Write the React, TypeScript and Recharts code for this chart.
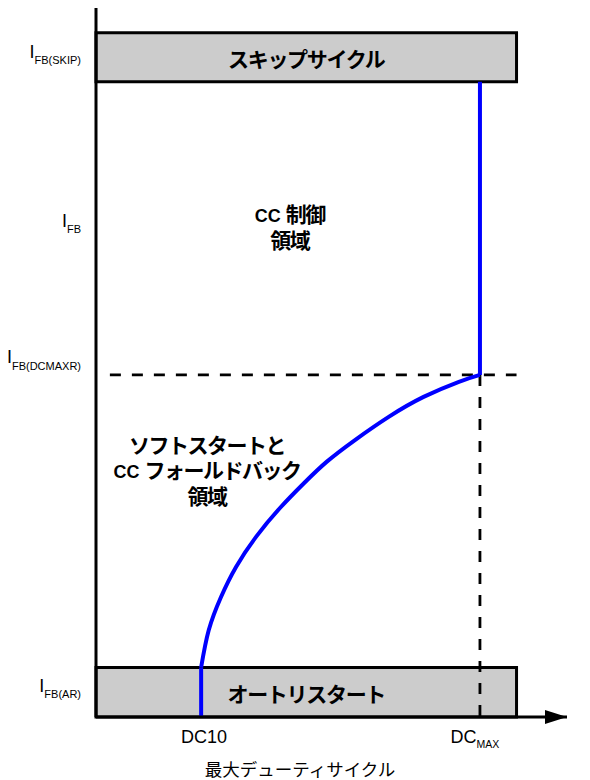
import React from "react";
import {
  ComposedChart,
  Line,
  XAxis,
  YAxis,
  ReferenceArea,
  ReferenceLine,
  ReferenceDot,
} from "recharts";

// curve (duty %, I_FB level)
const curveDuty = [25.0, 26.8, 29.7, 33.3, 38.1, 43.8, 49.5, 54.9, 61.5, 69.6, 77.9, 86.3, 91.3];
const curveIfb = [7.2, 12.6, 17.4, 21.8, 26.2, 30.4, 34.0, 37.1, 40.2, 43.6, 46.5, 48.7, 49.7];

const dutyTicks = [25, 91.3];
const dutyTickMain = ["DC10", "DC"];
const dutyTickSub = ["", "MAX"];

const ifbTicks = [4.6, 52.3, 72.2, 96.7];
const ifbTickSub = ["FB(AR)", "FB(DCMAXR)", "FB", "FB(SKIP)"];

const DC10 = 25;
const DCMAX = 91.3;
const IFB_DCMAXR = 49.7;
const boxDuty = [0, 100];
const arBox = [0, 7.2];
const skipBox = [92.3, 99.4];
const dutyDomain = [0, 112];
const ifbDomain = [0, 103];

const skipText = "スキップサイクル";
const arText = "オートリスタート";
const ccText = ["CC 制御", "領域"];
const softText = ["ソフトスタートと", "CC フォールドバック", "領域"];
const xTitle = "最大デューティサイクル";

const data = curveDuty.map((x, i) => ({ x, y: curveIfb[i] }));

const FONT = "'Liberation Sans', 'Noto Sans CJK JP', sans-serif";
const JP = 21;

// latin prefix "CC " is set a bit smaller than the Japanese part
const jpLine = (s: string) => {
  if (s.startsWith("CC ")) {
    return [
      <tspan key="a" fontSize={18} letterSpacing={0}>CC </tspan>,
      <tspan key="b">{s.slice(3)}</tspan>,
    ];
  }
  return s;
};

const IfbTick = (props: any) => {
  const { y, payload } = props;
  const sub = ifbTickSub[ifbTicks.indexOf(payload.value)];
  return (
    <text x={81} y={y + 6.5} textAnchor="end" fontFamily={FONT} fontSize={18} fill="#000">
      <tspan>I</tspan>
      <tspan fontSize={11} dy={6.5}>{sub}</tspan>
    </text>
  );
};

const DutyTick = (props: any) => {
  const { x, payload } = props;
  const i = dutyTicks.indexOf(payload.value);
  return (
    <text x={x + (i === 0 ? 3 : -5)} y={743} textAnchor="middle" fontFamily={FONT} fontSize={18} fill="#000">
      <tspan>{dutyTickMain[i]}</tspan>
      {dutyTickSub[i] && (
        <tspan fontSize={10.5} dy={5}>{dutyTickSub[i]}</tspan>
      )}
    </text>
  );
};

const BoxLabel = ({ viewBox, text }: any) => {
  if (!viewBox) return null;
  return (
    <text
      x={viewBox.x + viewBox.width / 2}
      y={viewBox.y + viewBox.height / 2 + 9.5}
      textAnchor="middle"
      fontFamily={FONT}
      fontSize={JP}
      letterSpacing={-1.3}
      fontWeight="bold"
      fill="#000"
    >
      {text}
    </text>
  );
};

const regionShape = (lines: string[]) => (p: any) => (
  <text
    x={p.cx}
    y={p.cy}
    textAnchor="middle"
    fontFamily={FONT}
    fontSize={JP}
    letterSpacing={-1.5}
    fontWeight="bold"
    fill="#000"
  >
    {lines.map((l, i) => (
      <tspan key={i} x={p.cx} dy={i === 0 ? 0 : 25.8}>
        {jpLine(l)}
      </tspan>
    ))}
  </text>
);

const arrowShape = (p: any) => (
  <path d={`M${p.cx} ${p.cy} L${p.cx - 22} ${p.cy - 7} L${p.cx - 22} ${p.cy + 7} Z`} fill="#000" />
);

export default function App() {
  return (
    <div style={{ position: "absolute", left: 0, top: 0, background: "#fff" }}>
      <ComposedChart width={590} height={780} data={data} margin={{ top: 8, right: 23, left: 0, bottom: 0 }}>
        <XAxis
          dataKey="x"
          type="number"
          domain={dutyDomain}
          ticks={dutyTicks}
          tick={<DutyTick />}
          tickLine={false}
          axisLine={{ stroke: "#000", strokeWidth: 3 }}
          height={63}
          label={{
            content: () => (
              <text x={300} y={776} textAnchor="middle" fontFamily={FONT} fontSize={17.5} fill="#000">
                {xTitle}
              </text>
            ),
          }}
        />
        <YAxis
          type="number"
          domain={ifbDomain}
          ticks={ifbTicks}
          tick={<IfbTick />}
          tickLine={false}
          axisLine={{ stroke: "#000", strokeWidth: 3 }}
          width={96}
        />
        <ReferenceArea
          x1={boxDuty[0]}
          x2={boxDuty[1]}
          y1={skipBox[0]}
          y2={skipBox[1]}
          fill="#cccccc"
          fillOpacity={1}
          stroke="#000"
          strokeWidth={3}
          label={<BoxLabel text={skipText} />}
        />
        <ReferenceArea
          x1={boxDuty[0]}
          x2={boxDuty[1]}
          y1={arBox[0]}
          y2={arBox[1]}
          fill="#cccccc"
          fillOpacity={1}
          stroke="#000"
          strokeWidth={3}
          label={<BoxLabel text={arText} />}
        />
        <ReferenceLine
          segment={[{ x: 3.3, y: IFB_DCMAXR }, { x: 100, y: IFB_DCMAXR }]}
          stroke="#000"
          strokeWidth={2.8}
          strokeDasharray="11 11"
        />
        <ReferenceLine
          segment={[{ x: DCMAX, y: IFB_DCMAXR }, { x: DCMAX, y: 0 }]}
          stroke="#000"
          strokeWidth={2.8}
          strokeDasharray="11 11"
        />
        <ReferenceLine
          segment={[{ x: DC10, y: 0 }, { x: DC10, y: arBox[1] }]}
          stroke="#0000ff"
          strokeWidth={4}
        />
        <ReferenceLine
          segment={[{ x: DCMAX, y: IFB_DCMAXR }, { x: DCMAX, y: skipBox[0] }]}
          stroke="#0000ff"
          strokeWidth={4}
        />
        <ReferenceDot x={46.1} y={71.9} r={0} ifOverflow="visible" shape={regionShape(ccText)} />
        <ReferenceDot x={26.4} y={38.4} r={0} ifOverflow="visible" shape={regionShape(softText)} />
        <ReferenceDot x={dutyDomain[1]} y={0} r={0} ifOverflow="visible" shape={arrowShape} />
        <Line
          dataKey="y"
          type="natural"
          stroke="#0000ff"
          strokeWidth={4}
          dot={false}
          isAnimationActive={false}
        />
      </ComposedChart>
    </div>
  );
}
